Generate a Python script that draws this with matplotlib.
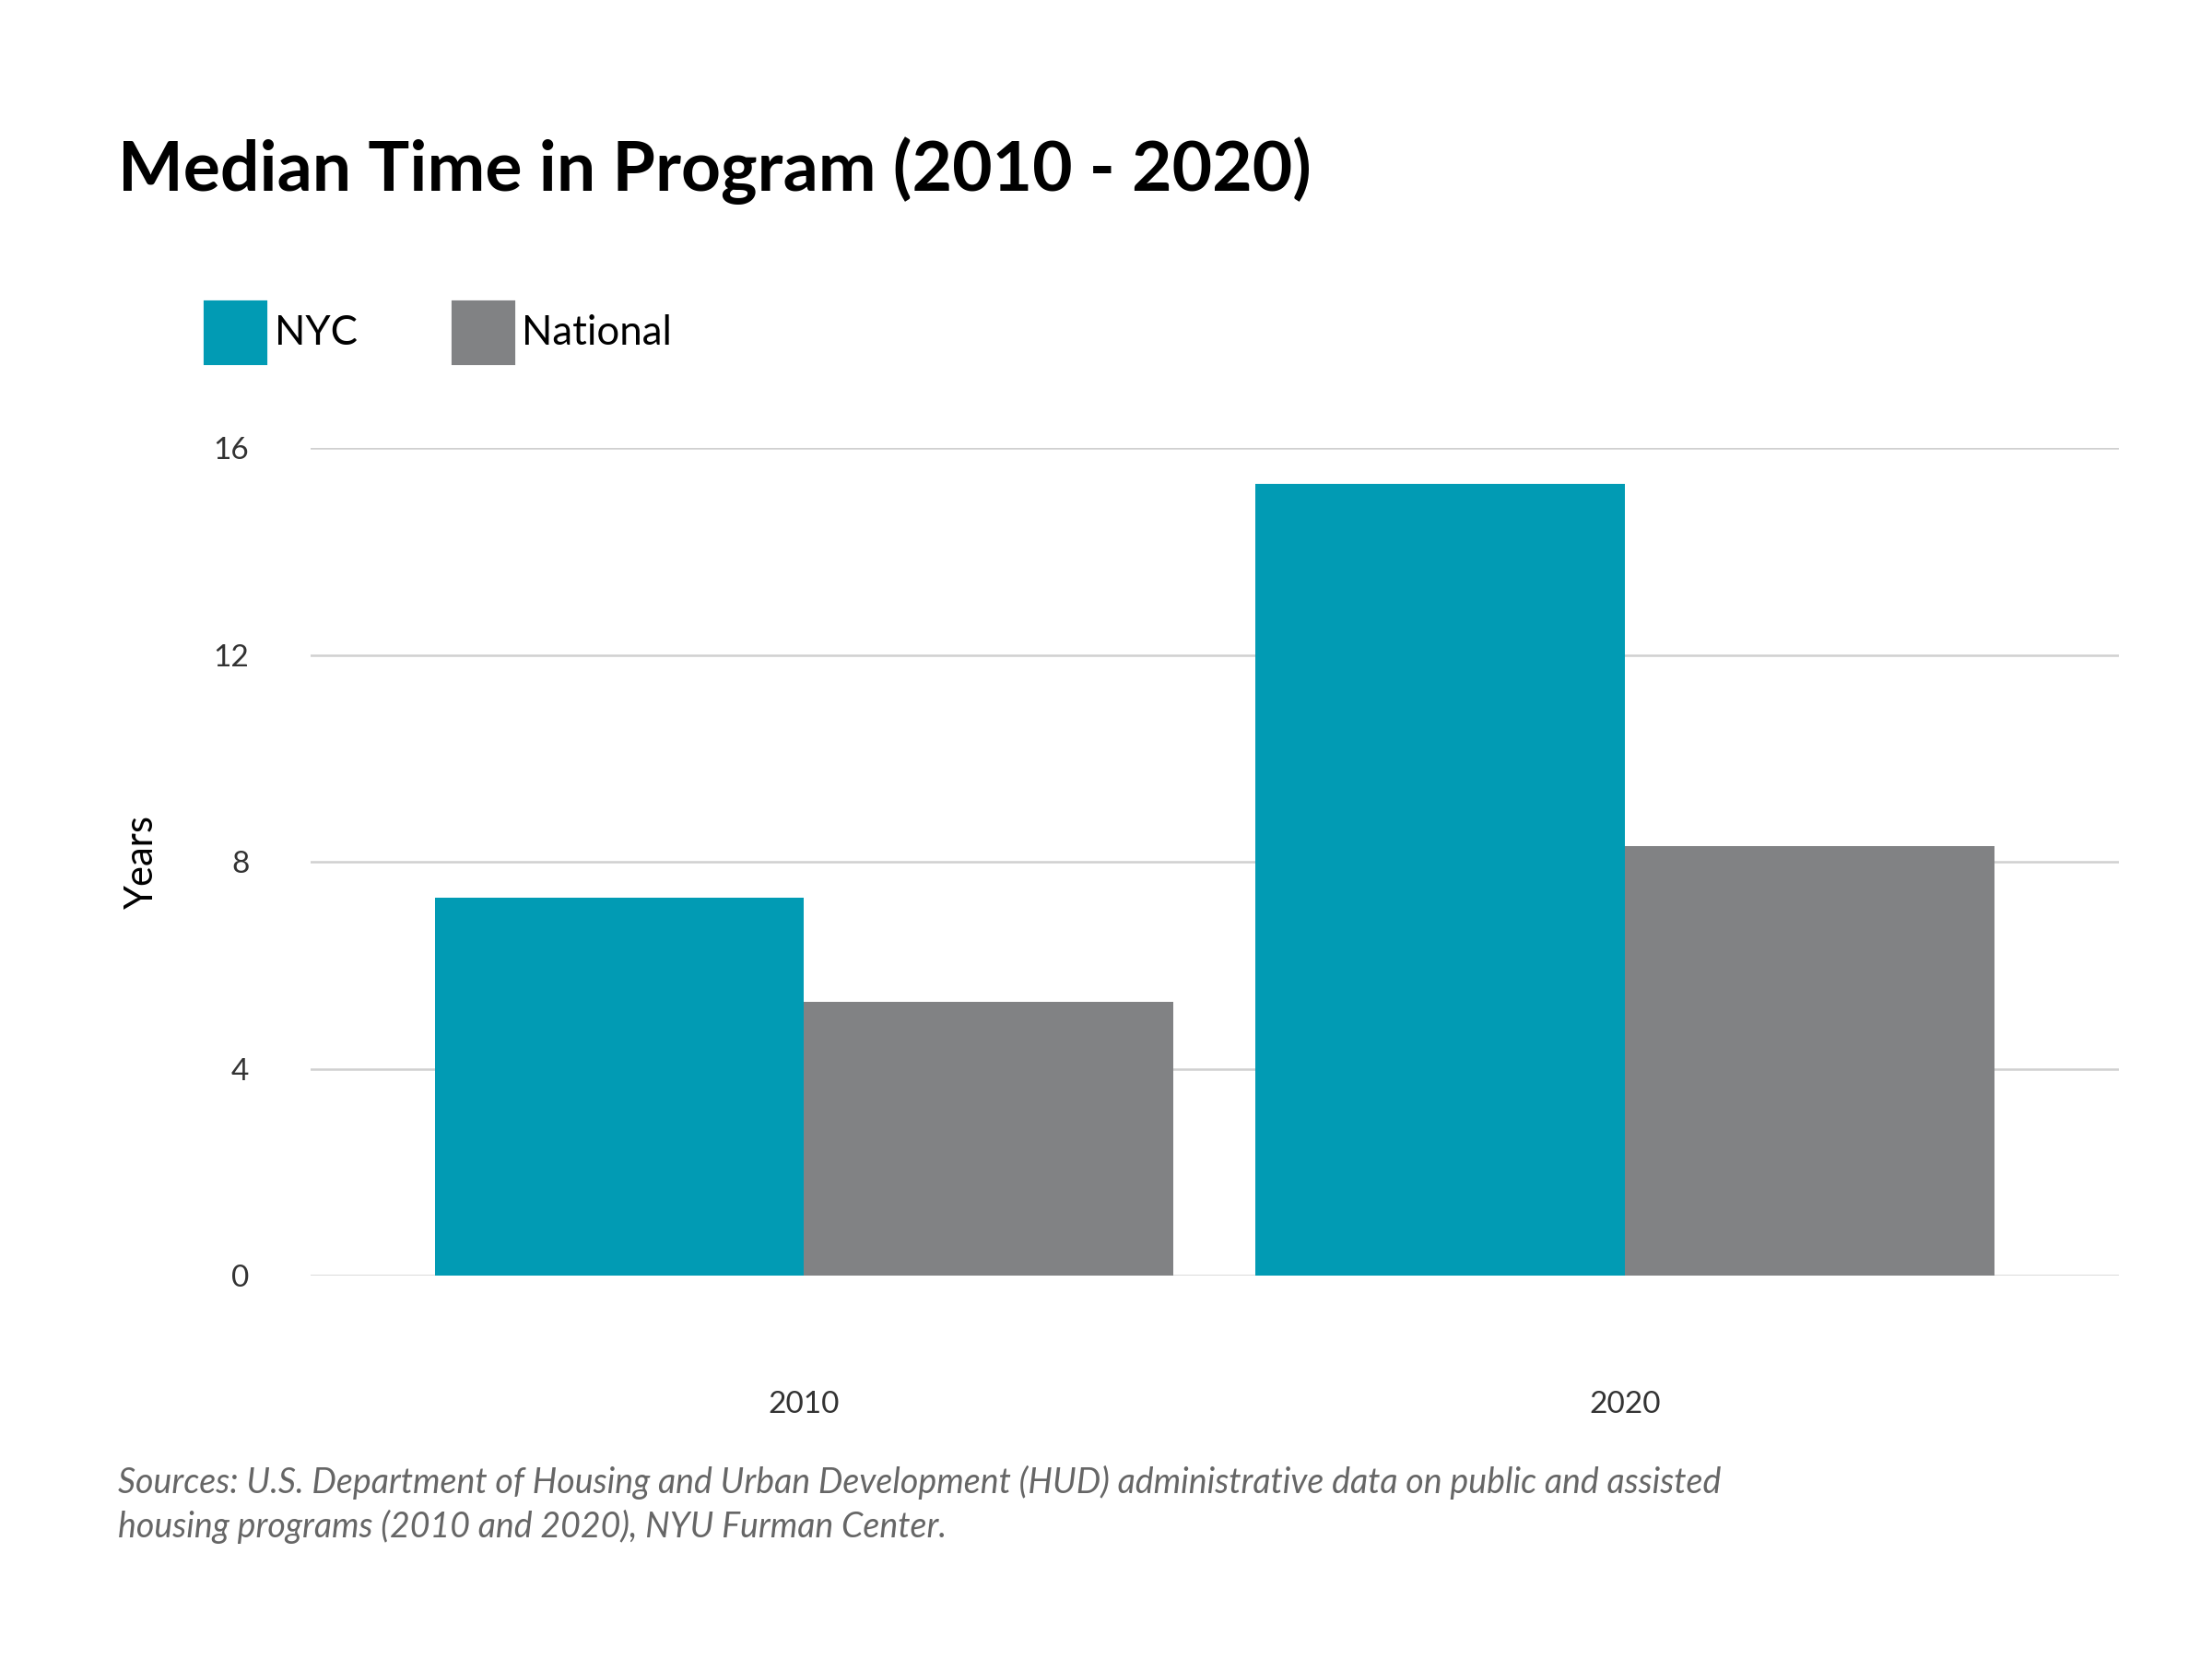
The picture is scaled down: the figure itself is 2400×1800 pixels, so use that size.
import numpy as np
import matplotlib.pyplot as plt
from matplotlib.patches import Rectangle

years = ['2010', '2020']
nyc = [7.3, 15.3]
national = [5.3, 8.3]
yticks = [0, 4, 8, 12, 16]

teal = '#019bb4'
gray = '#818284'

plt.rcParams['font.family'] = ['Lato', 'DejaVu Sans']

fig = plt.figure(figsize=(8, 6), dpi=300)
ax = fig.add_axes([0.1405, 0.231, 0.8175, 0.499])

x = np.arange(len(years))
w = 0.45
ax.bar(x - w / 2, nyc, w, color=teal, label='NYC')
ax.bar(x + w / 2, national, w, color=gray, label='National')

ax.set_xlim(-0.601, 1.602)
ax.set_ylim(0, 16)
ax.set_yticks(yticks)
ax.set_xticks(x)
ax.set_xticklabels(years)
ax.grid(axis='y', color='#d0d0d0', linewidth=0.6)
ax.set_axisbelow(True)
for s in ax.spines.values():
    s.set_visible(False)
ax.tick_params(axis='y', length=0, pad=16, labelsize=8, labelcolor='#333333')
ax.tick_params(axis='x', length=0, pad=30, labelsize=8, labelcolor='#333333')
ax.set_ylabel('Years', fontsize=10, labelpad=14)

fig.text(0.0535, 0.897, 'Median Time in Program (2010 - 2020)',
         fontsize=18, fontweight='bold', va='center')

# legend
for lx, label, c in [(0.093, 'NYC', teal), (0.205, 'National', gray)]:
    fig.patches.append(Rectangle((lx, 0.781), 0.027, 0.037, color=c,
                                 transform=fig.transFigure, figure=fig))
    fig.text(lx + 0.031, 0.799, label, fontsize=10.5, va='center')

fig.text(0.0535, 0.093,
         'Sources: U.S. Department of Housing and Urban Development (HUD) administrative data on public and assisted\n'
         'housing programs (2010 and 2020), NYU Furman Center.',
         fontsize=9, style='italic', color='#666666', va='center', linespacing=1.35)

fig.savefig('out.png', dpi=300, facecolor='white')
